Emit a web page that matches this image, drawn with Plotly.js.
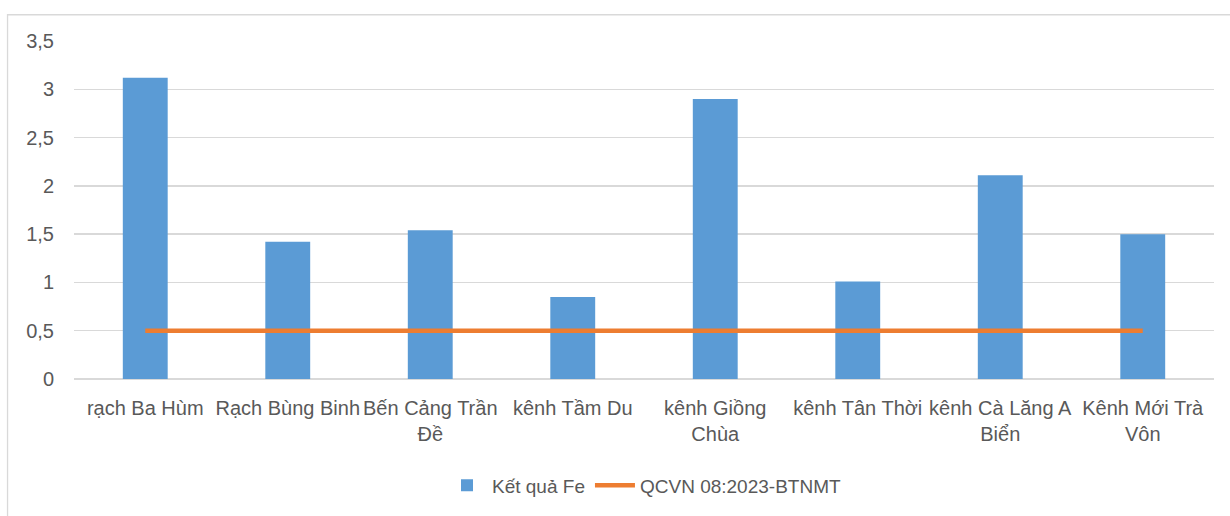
<!DOCTYPE html>
<html>
<head>
<meta charset="utf-8">
<script src="https://cdn.plot.ly/plotly-3.0.1.min.js"></script>
<style>html,body{margin:0;padding:0;background:#fff;}#chart{width:1230px;height:516px;}</style>
</head>
<body>
<div id="chart"></div>
<script>
const categories = [
  "rạch Ba Hùm",
  "Rạch Bùng Binh",
  "Bến Cảng Trần<br>Đề",
  "kênh Tầm Du",
  "kênh Giồng<br>Chùa",
  "kênh Tân Thời",
  "kênh Cà Lăng A<br>Biển",
  "Kênh Mới Trà<br>Vôn"
];
const feValues = [3.12, 1.42, 1.54, 0.85, 2.90, 1.01, 2.11, 1.50];
const qcvnValues = [0.5, 0.5, 0.5, 0.5, 0.5, 0.5, 0.5, 0.5];
const seriesNames = ["Kết quả Fe", "QCVN 08:2023-BTNMT"];
const yTicks = [0, 0.5, 1, 1.5, 2, 2.5, 3, 3.5];

const FONT = '"Liberation Sans", Arial, sans-serif';
const TXT = '#595959';

const traces = [
  {
    type: 'bar', x: categories, y: feValues, name: seriesNames[0],
    marker: {color: '#5B9BD5'}, hoverinfo: 'skip'
  },
  {
    type: 'scatter', mode: 'lines', x: categories, y: qcvnValues, name: seriesNames[1],
    line: {color: '#ED7D31', width: 4.5}, hoverinfo: 'skip'
  }
];

const layout = {
  width: 1230, height: 516,
  margin: {l: 74, r: 16, t: 41, b: 133},
  paper_bgcolor: '#ffffff', plot_bgcolor: '#ffffff',
  separators: ',.',
  font: {family: FONT, size: 20, color: TXT},
  bargap: 0.685,
  showlegend: true,
  legend: {
    orientation: 'h', x: 0.5, xanchor: 'center', y: -0.315, yanchor: 'middle',
    font: {family: FONT, size: 19, color: TXT}, itemwidth: 40, traceorder: 'normal'
  },
  xaxis: {
    type: 'category', showgrid: false, zeroline: false, showline: false,
    ticks: '', tickangle: 0, ticklabelstandoff: 15,
    tickfont: {family: FONT, size: 20, color: TXT}
  },
  yaxis: {
    range: [0, 3.5], tickvals: yTicks, showgrid: true, gridcolor: '#d9d9d9', gridwidth: 1.3,
    zeroline: true, zerolinecolor: '#d9d9d9', zerolinewidth: 1.3, showline: false,
    ticks: '', ticklabelstandoff: 19,
    tickfont: {family: FONT, size: 20, color: TXT}
  },
  shapes: [
    {type: 'rect', xref: 'paper', yref: 'paper',
     x0: -0.0583, x1: 1.2, y0: -0.5, y1: 1.0777,
     line: {color: '#d9d9d9', width: 1.3}, fillcolor: 'rgba(0,0,0,0)', layer: 'below'}
  ]
};

Plotly.newPlot('chart', traces, layout, {displayModeBar: false, staticPlot: true});
</script>
</body>
</html>
